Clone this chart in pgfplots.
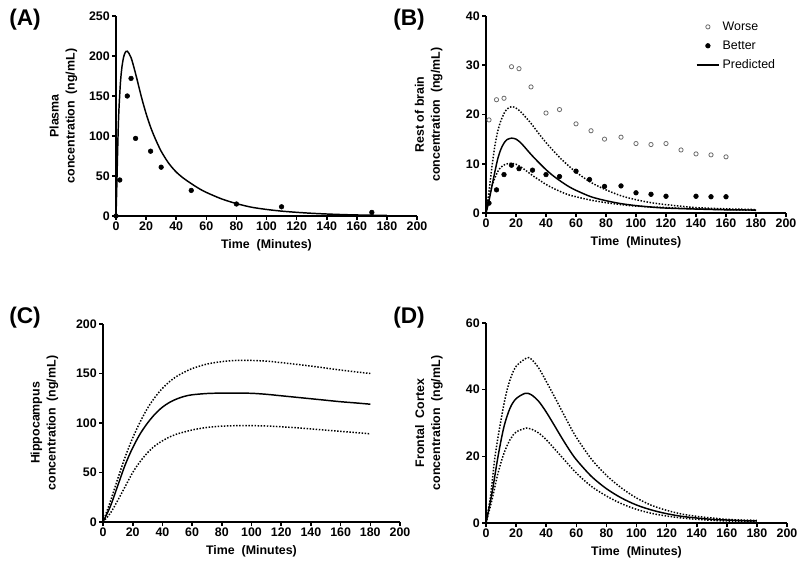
\documentclass[border=0pt]{standalone}
\usepackage{fontspec}
\setmainfont{Liberation Sans}
\usepackage{pgfplots}
\pgfplotsset{compat=1.18}
\pgfplotsset{prism/.style={
  scale only axis,
  axis x line*=bottom, axis y line*=left,
  axis line style={line width=1.2pt,-},
  every tick/.style={line width=1.2pt, black},
  tick align=outside, major tick length=3pt,
  xmin=0,xmax=200, xtick={0,20,...,200},
  /pgf/number format/assume math mode=true,
  ticklabel style={font=\fontsize{9.3}{10}\selectfont\bfseries, inner sep=1.5pt},
  label style={font=\fontsize{9.3}{12}\selectfont\bfseries},
  xlabel={Time~~(Minutes)},
  xlabel style={at={(axis description cs:0.5,0)}, anchor=center, yshift=-21.75pt},
  clip=false,
}}
\pgfplotsset{pred/.style={black, line width=1.1pt, smooth, no marks},
  band/.style={black, line width=1.1pt, smooth, no marks, dash pattern=on 1.1pt off 1.2pt}}
\begin{document}
\begin{tikzpicture}
\useasboundingbox (0,0) rectangle (599.25pt,423.75pt);
\node[font=\fontsize{17}{20}\selectfont\bfseries] at (18.75pt,408.75pt) {(A)};
\node[font=\fontsize{17}{20}\selectfont\bfseries] at (306.75pt,408.75pt) {(B)};
\node[font=\fontsize{17}{20}\selectfont\bfseries] at (18.75pt,185.25pt) {(C)};
\node[font=\fontsize{17}{20}\selectfont\bfseries] at (306.75pt,185.25pt) {(D)};

% Panel A
\begin{axis}[prism, at={(87pt,261.75pt)}, anchor=south west,
  width=225.75pt, height=150pt, ymin=0, ymax=250, ytick={0,50,...,250},
  ylabel={Plasma\\concentration~~(ng/mL)},
  ylabel style={at={(axis description cs:-0.113,0.5)}, anchor=south, align=center}]
\addplot[pred] coordinates {(0,0)(0.5,35)(1,75)(1.5,110)(2,135)(3,168)(4,187)(5,198)(6,204)(7.5,206)(10,198)(13,178)(17,148)(20,128)(23,111)(26,97)(30,81)(35,66)(40,55)(45,47)(50,40.5)(55,34.5)(60,29.5)(70,21.5)(80,15.5)(90,11)(100,8.2)(110,6.1)(120,4.6)(130,3.4)(140,2.5)(150,1.8)(160,1.3)(170,1)(180,0.7)};
\addplot[only marks, mark=*, mark size=1.75pt, black] coordinates {(0,0)(2.5,45)(7.5,150)(10,172)(13,97)(23,81)(30,61)(50,32)(80,15)(110,11.5)(170,4.5)};
\end{axis}

% Panel B
\begin{axis}[prism, at={(364.5pt,264pt)}, anchor=south west,
  width=225pt, height=147.75pt, ymin=0, ymax=40, ytick={0,10,...,40},
  ylabel={Rest of brain\\concentration~~(ng/mL)},
  ylabel style={at={(axis description cs:-0.129,0.5)}, anchor=south, align=center},
  legend style={at={(axis description cs:1,1)}, anchor=north east, xshift=-3pt, draw=none, fill=none,
    font=\fontsize{9.3}{11}\selectfont, row sep=2.3pt},
  legend cell align=left]
\addplot[only marks, mark=o, mark size=1.6pt, gray!85!black, line width=0.6pt] coordinates {(2,18.9)(7,23)(12,23.3)(17,29.7)(22,29.3)(30,25.6)(40,20.3)(49,21)(60,18.1)(70,16.7)(79,15)(90,15.4)(100,14.1)(110,13.9)(120,14.1)(130,12.8)(140,12)(150,11.8)(160,11.4)};
\addlegendentry{Worse}
\addplot[only marks, mark=*, mark size=1.75pt, black] coordinates {(2,2)(7,4.7)(12,7.8)(17,9.7)(22,9)(31,8.7)(40,7.8)(49,7.4)(60,8.5)(69,6.8)(79,5.4)(90,5.5)(100,4.1)(110,3.8)(120,3.4)(140,3.4)(150,3.3)(160,3.3)};
\addlegendentry{Better}
\addplot[pred] coordinates {(0,0)(2,2.5)(4,5.5)(6,8.5)(8,11.2)(10,13)(12,14.2)(14,14.9)(17,15.2)(20,15)(23,14.3)(26,13.3)(30,11.9)(35,10.3)(40,8.8)(45,7.5)(50,6.4)(55,5.4)(60,4.6)(70,3.3)(80,2.5)(90,1.9)(100,1.5)(110,1.2)(120,1)(140,0.8)(160,0.65)(180,0.6)};
\addlegendentry{Predicted}
\addplot[band, forget plot] coordinates {(0,0)(2,4.4)(4,9.5)(6,13.8)(8,16.8)(10,18.8)(12,20.2)(14,21.1)(17,21.6)(20,21.3)(23,20.6)(26,19.6)(30,18.2)(35,16.2)(40,14.3)(45,12.6)(50,11)(55,9.6)(60,8.3)(70,6.2)(80,4.7)(90,3.5)(100,2.7)(110,2.1)(120,1.7)(140,1.1)(160,0.85)(180,0.7)};
\addplot[band, forget plot] coordinates {(0,0)(2,3)(4,5.5)(6,7.2)(8,8.5)(10,9.3)(13,9.9)(17,10.1)(20,9.9)(24,9.2)(28,8.3)(32,7.4)(36,6.6)(40,5.8)(45,5)(50,4.3)(55,3.7)(60,3.3)(70,2.6)(80,2.1)(90,1.7)(100,1.4)(120,1.1)(140,0.85)(160,0.7)(180,0.55)};
\end{axis}

% Panel C
\begin{axis}[prism, at={(77.25pt,32.25pt)}, anchor=south west,
  width=222.75pt, height=148.5pt, ymin=0, ymax=200, ytick={0,50,...,200},
  ylabel={Hippocampus\\concentration~~(ng/mL)},
  ylabel style={at={(axis description cs:-0.135,0.5)}, anchor=south, align=center}]
\addplot[pred] coordinates {(0,0)(5,16)(10,37)(15,58)(20,75)(25,89)(30,100)(35,109)(40,116)(45,121)(50,124.5)(55,127)(60,128.5)(70,129.8)(80,130.2)(90,130.2)(100,130)(110,129)(120,127.5)(130,126)(140,124.5)(150,123)(160,121.5)(170,120.3)(180,119)};
\addplot[band] coordinates {(0,0)(5,21)(10,44)(15,66)(20,85)(25,101)(30,115)(35,126)(40,135)(45,142)(50,147.5)(55,151.5)(60,155)(70,159.5)(80,162)(90,163.2)(100,163.2)(110,162.5)(120,161)(130,159.3)(140,157.5)(150,155.5)(160,153.5)(170,151.7)(180,150)};
\addplot[band] coordinates {(0,0)(5,9)(10,22)(15,36)(20,50)(25,61)(30,70)(35,77)(40,82)(45,86)(50,89)(55,91)(60,93)(70,95.5)(80,96.8)(90,97.3)(100,97.3)(110,97)(120,96.2)(130,95.2)(140,94)(150,92.8)(160,91.6)(170,90.4)(180,89)};
\end{axis}

% Panel D
\begin{axis}[prism, at={(364.5pt,31.5pt)}, anchor=south west,
  width=225.75pt, height=150pt, ymin=0, ymax=60, ytick={0,20,40,60},
  ylabel={Frontal~~Cortex\\concentration~~(ng/mL)},
  ylabel style={at={(axis description cs:-0.128,0.5)}, anchor=south, align=center}]
\addplot[pred] coordinates {(0,0)(4,9)(8,20)(12,29)(16,34.5)(20,37.3)(26,38.9)(30,38.5)(35,36.5)(40,33.3)(45,29.6)(50,25.8)(55,22.2)(60,19)(70,14)(80,10.3)(90,7.5)(100,5.4)(110,3.9)(120,2.8)(130,2)(140,1.5)(150,1.1)(160,0.9)(170,0.7)(180,0.6)};
\addplot[band] coordinates {(0,0)(3,8)(6,20)(10,31)(13,38)(16,43)(20,47)(27,49.5)(30,49.2)(35,46.5)(40,42.5)(45,38.3)(50,34)(55,29.7)(60,25.7)(70,19.2)(80,14.3)(90,10.5)(100,7.5)(110,5.3)(120,3.8)(130,2.7)(140,2)(150,1.5)(160,1.1)(170,0.9)(180,0.8)};
\addplot[band] coordinates {(0,0)(4,7)(8,15)(12,21)(16,25)(20,27.3)(27,28.5)(30,28.2)(35,27)(40,25)(45,22.5)(50,20)(60,15)(70,11)(80,8.1)(90,5.8)(100,4.1)(110,2.9)(120,2.1)(130,1.5)(140,1.1)(150,0.8)(160,0.6)(170,0.5)(180,0.4)};
\end{axis}
\end{tikzpicture}
\end{document}
